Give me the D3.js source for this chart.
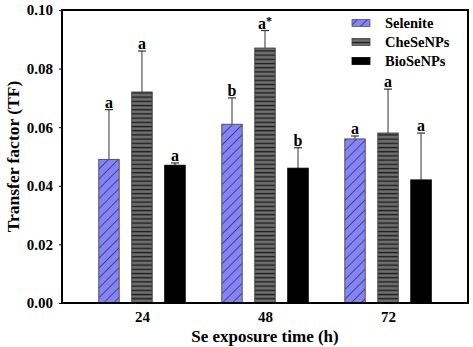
<!DOCTYPE html>
<html><head><meta charset="utf-8">
<script src="https://cdn.jsdelivr.net/npm/d3@7"></script>
<style>
html,body{margin:0;padding:0;background:#fff;}
text{font-family:"Liberation Serif","Times New Roman",serif;font-weight:bold;fill:#000;}
</style></head>
<body>
<svg id="chart" width="473" height="347"></svg>
<script>
const groups = ["24", "48", "72"];
const seriesNames = ["Selenite", "CheSeNPs", "BioSeNPs"];
const selenite = [0.049, 0.061, 0.056];
const seleniteErr = [0.017, 0.009, 0.001];
const cheSeNPs = [0.072, 0.087, 0.058];
const cheSeNPsErr = [0.014, 0.006, 0.015];
const bioSeNPs = [0.047, 0.046, 0.042];
const bioSeNPsErr = [0.0008, 0.007, 0.016];
const seleniteLetters = ["a", "b", "a"];
const cheSeNPsLetters = ["a", "a*", "a"];
const bioSeNPsLetters = ["a", "b", "a"];
const yTicks = [0, 0.02, 0.04, 0.06, 0.08, 0.10];

const values = [selenite, cheSeNPs, bioSeNPs];
const errs = [seleniteErr, cheSeNPsErr, bioSeNPsErr];
const letters = [seleniteLetters, cheSeNPsLetters, bioSeNPsLetters];

const svg = d3.select("#chart");
const L = 62, R = 468, T = 10, B = 303;

// patterns
const defs = svg.append("defs");
const p1 = defs.append("pattern").attr("id","diag").attr("patternUnits","userSpaceOnUse")
  .attr("width",7).attr("height",7).attr("patternTransform","rotate(45)");
p1.append("rect").attr("width",7).attr("height",7).attr("fill","#8484f8");
p1.append("line").attr("x1",0).attr("y1",0).attr("x2",0).attr("y2",7).attr("stroke","#111").attr("stroke-width",1.1);

const p2 = defs.append("pattern").attr("id","horiz").attr("patternUnits","userSpaceOnUse")
  .attr("width",4).attr("height",4.2);
p2.append("rect").attr("width",4).attr("height",4.2).attr("fill","#5e5e5e");
p2.append("rect").attr("y",0).attr("width",4).attr("height",1.1).attr("fill","#1e1e1e");
p2.append("rect").attr("y",2).attr("width",4).attr("height",1).attr("fill","#7a7a7a");

const fills = ["url(#diag)", "url(#horiz)", "#000"];
const strokes = ["#555", "#444", "#000"];

const x = d3.scalePoint().domain(groups).range([L, R]).padding(0.65);
const xi = d3.scaleBand().domain(seriesNames).range([-49.5, 49.5]).paddingInner(0.38).paddingOuter(0.19);
const y = d3.scaleLinear().domain([0, 0.1]).range([B, T]);

// bars
seriesNames.forEach((s, si) => {
  const g = svg.append("g");
  groups.forEach((grp, gi) => {
    const v = values[si][gi], e = errs[si][gi];
    const bx = x(grp) + xi(s);
    const bw = xi.bandwidth();
    const cx = bx + bw / 2;
    g.append("line").attr("x1",cx).attr("x2",cx).attr("y1",y(v)).attr("y2",y(v+e))
      .attr("stroke","#555").attr("stroke-width",1.2);
    g.append("line").attr("x1",cx-4).attr("x2",cx+4).attr("y1",y(v+e)).attr("y2",y(v+e))
      .attr("stroke","#333").attr("stroke-width",1.2);
    g.append("rect").attr("x",bx).attr("y",y(v)).attr("width",bw).attr("height",y(0)-y(v))
      .attr("fill",fills[si]).attr("stroke",strokes[si]).attr("stroke-width",1);
    const lab = letters[si][gi];
    const t = g.append("text").attr("x",cx).attr("y",y(v+e)-2).attr("text-anchor","middle")
      .attr("font-size",16);
    if (lab.endsWith("*")) {
      t.append("tspan").text(lab.slice(0,-1));
      t.append("tspan").attr("dy",-4).attr("font-size",12).text("*");
    } else t.text(lab);
  });
});

// axes
const yAxis = d3.axisLeft(y).tickValues(yTicks).tickFormat(d3.format(".2f")).tickSize(3).tickPadding(6);
const ya = svg.append("g").attr("transform",`translate(${L},0)`).call(yAxis);
ya.select(".domain").remove();
ya.selectAll("line").attr("stroke","#000");
ya.selectAll("text").attr("font-size",15).style("font-family","Liberation Serif").style("font-weight","bold");

const xAxis = d3.axisBottom(x).tickSize(0).tickPadding(8);
const xa = svg.append("g").attr("transform",`translate(0,${B})`).call(xAxis);
xa.select(".domain").remove();
xa.selectAll("text").attr("font-size",15).style("font-family","Liberation Serif").style("font-weight","bold");

// frame
svg.append("rect").attr("x",L).attr("y",T).attr("width",R-L).attr("height",B-T)
  .attr("fill","none").attr("stroke","#000").attr("stroke-width",2);

// axis titles
svg.append("text").attr("x",(L+R)/2).attr("y",342).attr("text-anchor","middle")
  .attr("font-size",17).text("Se exposure time (h)");
svg.append("text").attr("transform",`translate(19,${(T+B)/2}) rotate(-90)`).attr("text-anchor","middle")
  .attr("font-size",17.5).text("Transfer factor (TF)");

// legend
const leg = svg.append("g");
seriesNames.forEach((s, i) => {
  const yy = 23 + i * 19;
  leg.append("rect").attr("x",352).attr("y",yy-3.5).attr("width",18).attr("height",7)
    .attr("fill",fills[i]).attr("stroke",strokes[i]).attr("stroke-width",0.8);
  leg.append("text").attr("x",385).attr("y",yy+5).attr("font-size",14.5).text(s);
});
</script>
</body></html>
